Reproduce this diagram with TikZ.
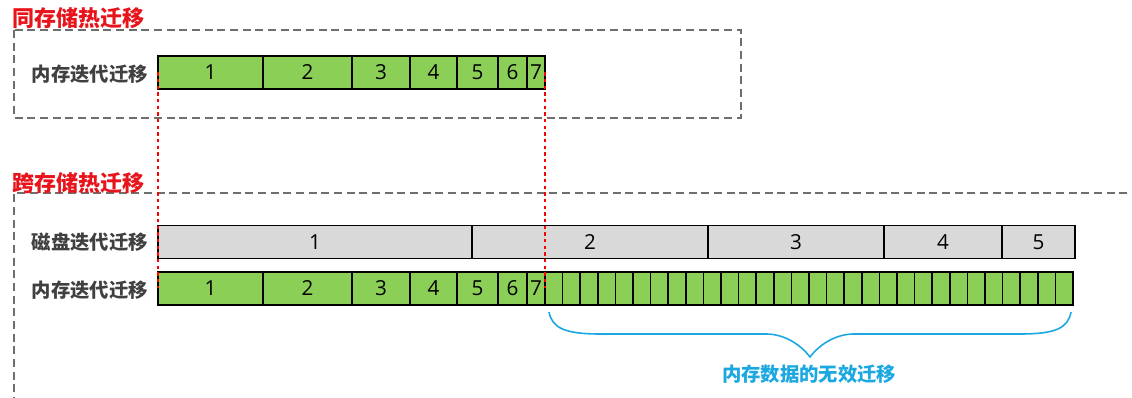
\documentclass[tikz,border=0pt]{standalone}
\usepackage{fontspec}
\setmainfont{Open Sans}
\newfontfamily\cjk{Noto Sans CJK SC}
\definecolor{cellgreen}{HTML}{8CCF57}
\definecolor{cellgray}{HTML}{D9D9D9}
\definecolor{boxgray}{HTML}{6E6E6E}
\definecolor{titlered}{HTML}{E8141B}
\definecolor{braceblue}{HTML}{1BA8E0}
\definecolor{labelgray}{HTML}{404040}
\begin{document}
\begin{tikzpicture}[x=0.75pt,y=-0.75pt,
 cellbase/.style={draw=black, line width=1.1pt, inner sep=0pt, outer sep=0pt, anchor=west, minimum height=24.75pt, font=\fontsize{15.5}{15.5}\selectfont},
 gcell/.style={cellbase, fill=cellgreen},
 dcell/.style={cellbase, fill=cellgray},
 rowlabel/.style={anchor=east, text=labelgray, font=\cjk\bfseries\fontsize{14.5}{15}\selectfont, inner sep=0pt},
 titlestyle/.style={anchor=west, text=titlered, font=\cjk\bfseries\fontsize{16.5}{16.5}\selectfont, inner sep=0pt},
 framebox/.style={draw=boxgray, line width=1.1pt, dash pattern=on 6pt off 3.5pt},
 guide/.style={draw=red, line width=1pt, dash pattern=on 2.5pt off 2.5pt},
 bracestyle/.style={draw=braceblue, line width=1.2pt},
 notestyle/.style={text=braceblue, font=\cjk\bfseries\fontsize{14.5}{15}\selectfont, inner sep=0pt},
]
\useasboundingbox (0,0) rectangle (1132,398);

% frames
\draw[framebox] (14,30) rectangle (741,118);
\begin{scope}
\clip (0,0) rectangle (1132,398);
\draw[framebox] (1140,193) -- (14,193) -- (14,410);
\end{scope}

% titles
\node[titlestyle] (t1) at (12,18.5) {同存储热迁移};
\node[titlestyle] (t2) at (12,183) {跨存储热迁移};

% row labels
\node[rowlabel] (l1) at (148,74) {内存迭代迁移};
\node[rowlabel] (l2) at (148,242) {磁盘迭代迁移};
\node[rowlabel] (l3) at (148,290) {内存迭代迁移};

% top memory row
\foreach \a/\b/\t [count=\i] in {158/263/1,263/352/2,352/410/3,410/457/4,457/498/5,498/527/6,527/545/7}{
  \pgfmathsetmacro\w{(\b-\a)*0.75}
  \node[gcell, minimum width=\w pt] (c\i) at (\a,72.5) {\t};
}

% disk row
\foreach \a/\b/\t [count=\i] in {158/472/1,472/708/2,708/884/3,884/1002/4,1002/1075/5}{
  \pgfmathsetmacro\w{(\b-\a)*0.75}
  \node[dcell, minimum width=\w pt] (d\i) at (\a,242) {\t};
}

% bottom memory row
\foreach \a/\b/\t [count=\i] in {158/263/1,263/352/2,352/410/3,410/457/4,457/498/5,498/527/6,527/545/7}{
  \pgfmathsetmacro\w{(\b-\a)*0.75}
  \node[gcell, minimum width=\w pt] (m\i) at (\a,288.5) {\t};
}
\foreach \i in {1,...,30}{
  \pgfmathsetmacro\xx{545+(\i-1)*17.6}
  \node[gcell, minimum width=13.2pt] (s\i) at (\xx,288.5) {};
}

% guides
\draw[guide] (c1.west) -- (m1.west);
\draw[guide] (c7.east) -- (m7.east);

% brace
\coordinate (bl) at (549,312);
\coordinate (br) at (1071,312);
\coordinate (btip) at (810,357);
\draw[bracestyle] (bl) .. controls (552,328) and (565,334) .. (600,334) -- (766,334)
  .. controls (784,334) and (800,344) .. (btip)
  .. controls (820,344) and (836,334) .. (854,334) -- (1020,334)
  .. controls (1056,334) and (1068,328) .. (br);
\node[notestyle] (note) at (809,374) {内存数据的无效迁移};
\end{tikzpicture}
\end{document}
